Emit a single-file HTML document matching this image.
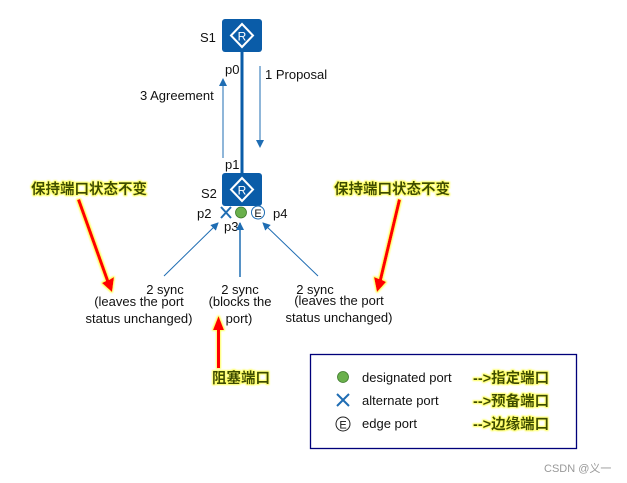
<!DOCTYPE html>
<html><head><meta charset="utf-8"><style>
html,body{margin:0;padding:0;background:#fff;width:627px;height:483px;overflow:hidden}
svg{display:block}
text{font-family:"Liberation Sans","Noto Sans CJK SC",sans-serif}
.t{font-size:13px;fill:#111}
.cn{font-size:14.5px;font-weight:bold;fill:#3c4c00}
</style></head><body>
<svg width="627" height="483" viewBox="0 0 627 483" xmlns="http://www.w3.org/2000/svg">
<defs>
<marker id="ah" markerWidth="8" markerHeight="8" refX="7" refY="4" orient="auto" markerUnits="userSpaceOnUse">
<path d="M0,0 L8,4 L0,8 Z" fill="#1f6db3"/></marker>
<filter id="glow" x="-30%" y="-30%" width="160%" height="160%">
<feMorphology in="SourceAlpha" operator="dilate" radius="1" result="d"/>
<feGaussianBlur in="d" stdDeviation="0.7" result="b"/>
<feFlood flood-color="#ffff60"/><feComposite in2="b" operator="in" result="y"/>
<feMerge><feMergeNode in="y"/><feMergeNode in="SourceGraphic"/></feMerge></filter>
</defs>
<line x1="242" y1="50" x2="242" y2="175" stroke="#0a5ca8" stroke-width="3"/>
<g>
<rect x="222" y="19" width="40" height="33" rx="3" fill="#0a5ca8"/>
<path d="M242,24 L253,35.5 L242,47 L231,35.5 Z" fill="none" stroke="#fff" stroke-width="2"/>
<text x="242" y="40.5" font-size="12" fill="#fff" text-anchor="middle">R</text>
</g>
<g>
<rect x="222" y="173" width="40" height="33" rx="3" fill="#0a5ca8"/>
<path d="M242,178 L253,189.5 L242,201 L231,189.5 Z" fill="none" stroke="#fff" stroke-width="2"/>
<text x="242" y="194.5" font-size="12" fill="#fff" text-anchor="middle">R</text>
</g>
<text class="t" x="200" y="42">S1</text>
<text class="t" x="201" y="198">S2</text>
<text class="t" x="225" y="74">p0</text>
<text class="t" x="225" y="169">p1</text>
<text class="t" x="197" y="218">p2</text>
<text class="t" x="224" y="231">p3</text>
<text class="t" x="273" y="218">p4</text>
<line x1="223" y1="158" x2="223" y2="79" stroke="#1f6db3" stroke-width="1" marker-end="url(#ah)"/>
<line x1="260" y1="66" x2="260" y2="147" stroke="#1f6db3" stroke-width="1" marker-end="url(#ah)"/>
<text class="t" x="140" y="100">3 Agreement</text>
<text class="t" x="265" y="79">1 Proposal</text>
<path d="M221,207 L231,218 M231,207 L221,218" stroke="#1f6db3" stroke-width="2"/>
<circle cx="241" cy="212.5" r="5.5" fill="#6ab04c" stroke="#3d7a2a" stroke-width="0.8"/>
<circle cx="258" cy="212.5" r="6.5" fill="#fff" stroke="#1f6db3" stroke-width="1"/>
<text x="258" y="217" font-size="11" text-anchor="middle" fill="#111">E</text>
<line x1="164" y1="276" x2="218" y2="223" stroke="#1f6db3" stroke-width="1" marker-end="url(#ah)"/>
<line x1="240" y1="277" x2="240" y2="223" stroke="#1f6db3" stroke-width="1.5" marker-end="url(#ah)"/>
<line x1="318" y1="276" x2="263" y2="223" stroke="#1f6db3" stroke-width="1" marker-end="url(#ah)"/>
<g class="t" text-anchor="middle">
<text x="165" y="294">2 sync</text>
<text x="139" y="306">(leaves the port</text>
<text x="139" y="323">status unchanged)</text>
<text x="240" y="294">2 sync</text>
<text x="240" y="306">(blocks the</text>
<text x="239" y="323">port)</text>
<text x="315" y="294">2 sync</text>
<text x="339" y="305">(leaves the port</text>
<text x="339" y="322">status unchanged)</text>
</g>
<g filter="url(#glow)" fill="#ff0000">
<polygon points="77,200 80,199 109,280 114,277 112,292 102,283 106,281"/>
<polygon points="398,199 401,200 382,280 386,282 377,292 374,277 379,279"/>
<polygon points="217,368 220,368 220,330 224,330 218.5,316 213,330 217,330"/>
</g>
<g filter="url(#glow)">
<text class="cn" x="31" y="194">保持端口状态不变</text>
<text class="cn" x="334" y="194">保持端口状态不变</text>
<text class="cn" x="212" y="383">阻塞端口</text>
<text class="cn" x="473" y="383">--&gt;指定端口</text>
<text class="cn" x="473" y="406">--&gt;预备端口</text>
<text class="cn" x="473" y="429">--&gt;边缘端口</text>
</g>
<rect x="310.5" y="354.5" width="266" height="94" fill="none" stroke="#00007a" stroke-width="1.3"/>
<circle cx="343" cy="377" r="5.5" fill="#6ab04c" stroke="#3d7a2a" stroke-width="0.8"/>
<path d="M337,394 L349,406 M349,394 L337,406" stroke="#1f6db3" stroke-width="2"/>
<circle cx="343" cy="424" r="7" fill="#fff" stroke="#222" stroke-width="1"/>
<text x="343" y="428.5" font-size="11" text-anchor="middle" fill="#111">E</text>
<text class="t" x="362" y="382">designated port</text>
<text class="t" x="362" y="405">alternate port</text>
<text class="t" x="362" y="428">edge port</text>
<text x="544" y="472" font-size="11" fill="#999">CSDN @义一</text>
</svg>
</body></html>
